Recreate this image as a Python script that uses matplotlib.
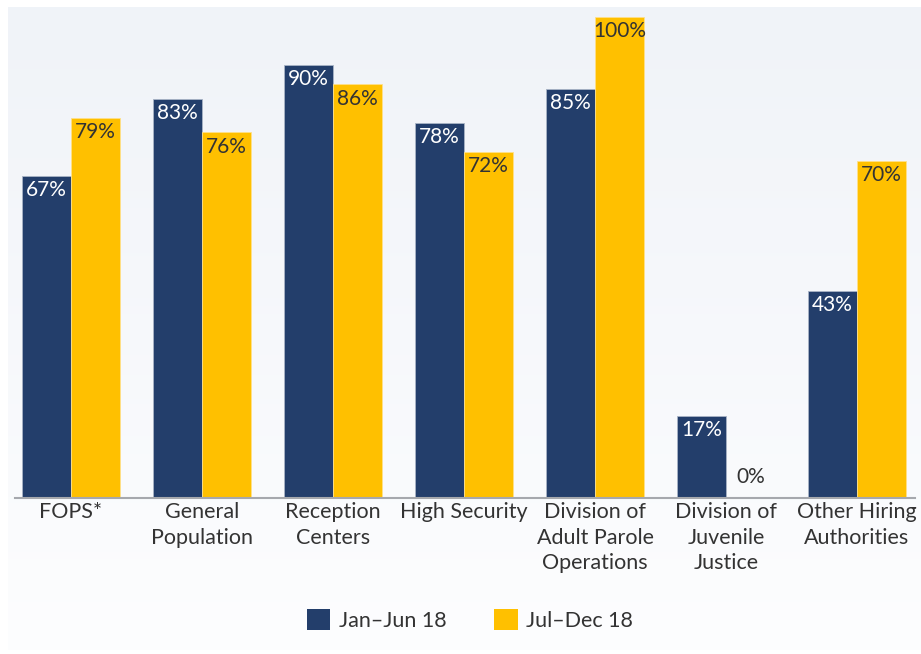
import numpy as np
import matplotlib
matplotlib.use("Agg")
import matplotlib.pyplot as plt
from matplotlib.patches import Patch

categories = ["FOPS*", "General\nPopulation", "Reception\nCenters", "High Security",
              "Division of\nAdult Parole\nOperations", "Division of\nJuvenile\nJustice",
              "Other Hiring\nAuthorities"]
jan_jun = [67, 83, 90, 78, 85, 17, 43]
jul_dec = [79, 76, 86, 72, 100, 0, 70]
series_names = ["Jan\u2013Jun 18", "Jul\u2013Dec 18"]

navy = "#233e6b"
gold = "#ffc000"
txt = "#333333"

plt.rcParams["font.family"] = ["Lato", "DejaVu Sans"]

fig = plt.figure(figsize=(9.21, 6.54), dpi=100)

# light gradient panel behind the chart
bg = fig.add_axes([8/921, 4/654, 913/921, 643/654], zorder=0)
grad = np.linspace(0, 1, 256).reshape(-1, 1)
c_top = np.array([0.941, 0.953, 0.973])
c_bot = np.array([0.992, 0.994, 0.998])
img = c_top + (c_bot - c_top) * grad[:, :, None]
bg.imshow(img, aspect="auto", extent=[0, 1, 0, 1])
bg.axis("off")

ax = fig.add_axes([15/921, 156/654, 900/921, 481/654], zorder=1)
ax.patch.set_alpha(0)

x = np.arange(len(categories))
w = 49/131
b1 = ax.bar(x - w/2, jan_jun, w, color=navy, edgecolor="#a9b4c6", linewidth=0.6)
b2 = ax.bar(x + w/2, jul_dec, w, color=gold, edgecolor="#ffe08a", linewidth=0.6)

fs = 15
for xi, v in zip(x, jan_jun):
    ax.annotate(f"{v}%", (xi - w/2, v), xytext=(0, -3), textcoords="offset points",
                ha="center", va="top", color="white", fontsize=fs)
for xi, v in zip(x, jul_dec):
    if v > 5:
        ax.annotate(f"{v}%", (xi + w/2, v), xytext=(0, -3), textcoords="offset points",
                    ha="center", va="top", color=txt, fontsize=fs)
    else:
        ax.annotate(f"{v}%", (xi + w/2, v), xytext=(0, 8), textcoords="offset points",
                    ha="center", va="bottom", color=txt, fontsize=fs)

ax.set_xlim(-56/131, 844/131)
ax.set_ylim(0, 100)
ax.set_xticks(x)
ax.set_xticklabels(categories, fontsize=15.5, color=txt, linespacing=1.35)
ax.tick_params(axis="x", length=0, pad=3)
ax.set_yticks([])
for s in ["top", "right", "left"]:
    ax.spines[s].set_visible(False)
ax.spines["bottom"].set_color("#a6a8ad")
ax.spines["bottom"].set_linewidth(1.5)

handles = [Patch(facecolor=navy), Patch(facecolor=gold)]
fig.legend(handles, series_names, loc="center", bbox_to_anchor=(470/921, 1 - 620/654),
           ncol=2, frameon=False, fontsize=15.5, handlelength=1.1, handleheight=1.1,
           columnspacing=2.2, handletextpad=0.4, labelcolor=txt)

fig.savefig("out.png", dpi=100)
